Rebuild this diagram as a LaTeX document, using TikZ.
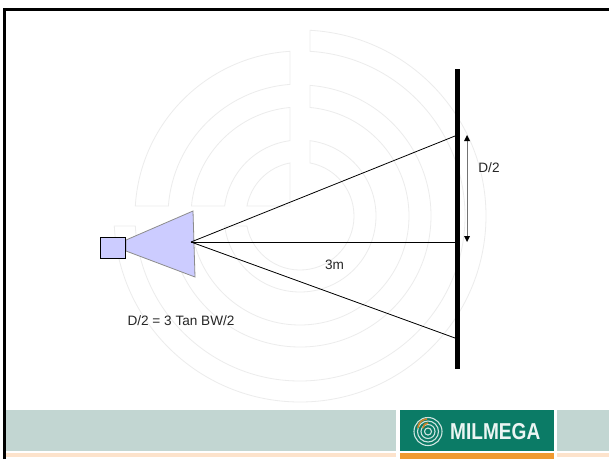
\documentclass[tikz,border=0pt]{standalone}
\usepackage{fontspec}
\setmainfont{Liberation Sans}
\definecolor{wm}{HTML}{ECECEC}
\definecolor{beam}{HTML}{CCCCFF}
\definecolor{band}{HTML}{C2D6D2}
\definecolor{peach}{HTML}{FDE3CC}
\definecolor{logo}{HTML}{0B7B66}
\definecolor{orangeb}{HTML}{F09A30}
\begin{document}
\begin{tikzpicture}[x=1pt,y=-1pt,
  wmline/.style={draw=wm,line width=0.8pt},
  label/.style={font=\fontsize{13.6}{15}\selectfont,text=black!85,inner sep=0pt},
  ray/.style={draw=black,line width=0.8pt}]
\useasboundingbox (0,0) rectangle (609,459);
\fill[white] (0,0) rectangle (609,459);
% watermark
\begin{scope}[shift={(300,216)},y=1pt]
\foreach \ro/\ri in {186/165,131/109,76/54}{
  \pgfmathsetmacro\ao{90-asin(10/\ro)}
  \pgfmathsetmacro\bo{-180+asin(10/\ro)}
  \pgfmathsetmacro\ai{90-asin(10/\ri)}
  \pgfmathsetmacro\bi{-180+asin(10/\ri)}
  \draw[wmline] (\ao:\ro) arc[start angle=\ao,end angle=\bo,radius=\ro] -- (\bi:\ri) arc[start angle=\bi,end angle=\ai,radius=\ri] -- cycle;
}
\foreach \ro/\ri in {165/132,109/76}{
  \pgfmathsetmacro\ao{90+asin(10/\ro)}
  \pgfmathsetmacro\bo{180-asin(10/\ro)}
  \pgfmathsetmacro\ai{90+asin(10/\ri)}
  \pgfmathsetmacro\bi{180-asin(10/\ri)}
  \draw[wmline] (\ao:\ro) arc[start angle=\ao,end angle=\bo,radius=\ro] -- (\bi:\ri) arc[start angle=\bi,end angle=\ai,radius=\ri] -- cycle;
}
\pgfmathsetmacro\ao{90+asin(10/54)}
\pgfmathsetmacro\bo{180-asin(10/54)}
\draw[wmline] (\ao:54) arc[start angle=\ao,end angle=\bo,radius=54] -- (-10,10) -- cycle;
\end{scope}
% footer
\fill[band] (6,410) rectangle (396,451);
\fill[band] (557,410) rectangle (609,451);
\fill[peach] (6,453) rectangle (396,457);
\fill[peach] (557,453) rectangle (609,457);
\fill[logo] (400,410) rectangle (554,451);
\fill[orangeb] (400,453) rectangle (554,459);
\node[font=\bfseries\fontsize{23}{23}\selectfont,text=white!92!logo,inner sep=0pt,anchor=west,xscale=0.83] (brand) at (450,431.5) {MILMEGA};
\foreach \r in {3.5,7,10.5,14}{\draw[white!80!logo,line width=1.1pt] (428,431.5) circle[radius=\r];}
\draw[orangeb!85!black,line width=1.6pt] (418,428) arc[start angle=180,end angle=270,radius=9];
\draw[orangeb!85!black,line width=1.6pt] (423,428) arc[start angle=180,end angle=270,radius=5];
% frame
\draw[black,line width=3pt] (4.5,459) -- (4.5,9.5) -- (609,9.5);
% horn
\draw[draw=black!45,fill=beam,line width=0.8pt] (126,240) -- (193,211) -- (195,277) -- (126,251) -- cycle;
\node[draw=black,fill=beam,line width=0.9pt,minimum width=25.5pt,minimum height=21pt,inner sep=0pt] (feed) at (113,247.5) {};
% wall
\fill[black] (455,69) rectangle (459.5,369);
\coordinate (apex) at (191,242);
\coordinate (wt) at (455,136);
\coordinate (wm) at (455,242);
\coordinate (wb) at (455,338);
\draw[ray] (apex) -- (wt);
\draw[ray] (apex) -- (wm);
\draw[ray] (apex) -- (wb);
% dimension
\draw[black!55,line width=1pt] (467,140) -- (467,237);
\fill[black] (467,135) -- (470,141) -- (464,141) -- cycle;
\fill[black] (467,242) -- (470,236) -- (464,236) -- cycle;
\node[label] (dlab) at (489,168) {D/2};
\node[label] (m) at (334.5,264.5) {3m};
\node[label] (eq) at (181,320.5) {D/2 = 3 Tan BW/2};
\end{tikzpicture}
\end{document}
